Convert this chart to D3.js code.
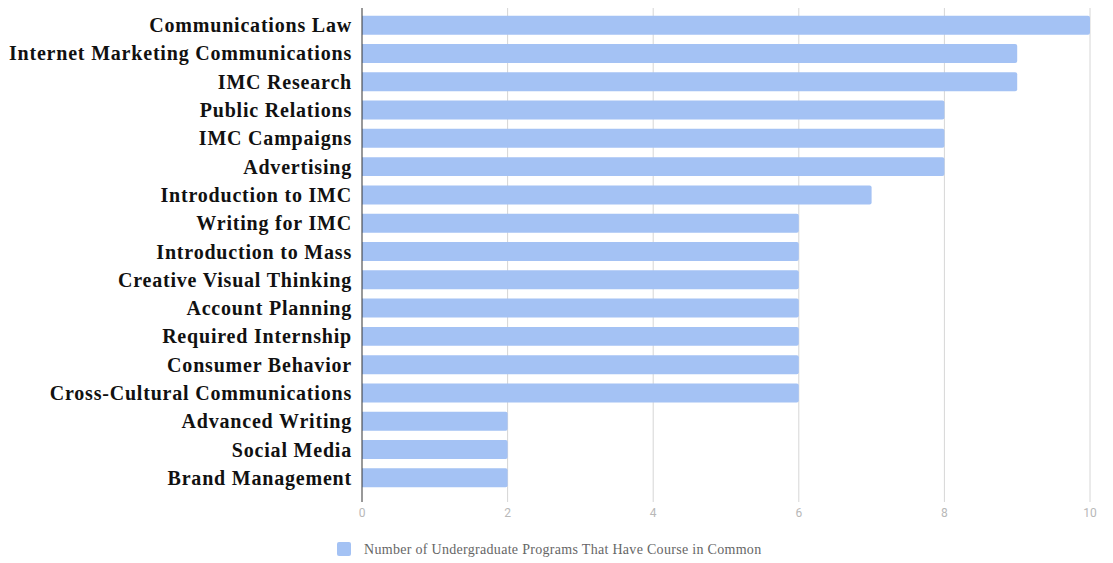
<!DOCTYPE html>
<html>
<head>
<meta charset="utf-8">
<script src="https://cdn.jsdelivr.net/npm/d3@7"></script>
<style>
  body { margin: 0; background: #fff; }
  svg { display: block; }
</style>
</head>
<body>
<div id="chart"></div>
<script>
const courses = [
  "Communications Law", "Internet Marketing Communications", "IMC Research",
  "Public Relations", "IMC Campaigns", "Advertising", "Introduction to IMC",
  "Writing for IMC", "Introduction to Mass", "Creative Visual Thinking",
  "Account Planning", "Required Internship", "Consumer Behavior",
  "Cross-Cultural Communications", "Advanced Writing", "Social Media",
  "Brand Management"
];
const programs = [10, 9, 9, 8, 8, 8, 7, 6, 6, 6, 6, 6, 6, 6, 2, 2, 2];
const xTicks = [0, 2, 4, 6, 8, 10];
const seriesName = "Number of Undergraduate Programs That Have Course in Common";

const width = 1113, height = 563;
const margin = { left: 362, right: 23, top: 8, bottom: 66 };

const svg = d3.select("#chart").append("svg")
  .attr("width", width)
  .attr("height", height);

const x = d3.scaleLinear()
  .domain([0, 10])
  .range([margin.left, width - margin.right]);

const y = d3.scaleBand()
  .domain(courses)
  .range([11, 492])
  .paddingInner(0.33)
  .paddingOuter(0.165);

// gridlines
svg.append("g")
  .selectAll("line")
  .data(xTicks.slice(1))
  .join("line")
  .attr("x1", d => x(d)).attr("x2", d => x(d))
  .attr("y1", margin.top).attr("y2", height - margin.bottom + 5)
  .attr("stroke", "#d6d6d6")
  .attr("stroke-width", 1);

// bars
svg.append("g")
  .selectAll("path")
  .data(courses)
  .join("path")
  .attr("fill", "#a4c2f4")
  .attr("d", (d, i) => {
    const x0 = x(0), x1 = x(programs[i]);
    const y0 = y(d), h = y.bandwidth(), r = 2;
    return `M${x0},${y0}H${x1 - r}Q${x1},${y0} ${x1},${y0 + r}V${y0 + h - r}Q${x1},${y0 + h} ${x1 - r},${y0 + h}H${x0}Z`;
  });

// baseline
svg.append("line")
  .attr("x1", x(0)).attr("x2", x(0))
  .attr("y1", margin.top).attr("y2", height - margin.bottom + 5)
  .attr("stroke", "#333")
  .attr("stroke-width", 1);

// category labels
svg.append("g")
  .selectAll("text")
  .data(courses)
  .join("text")
  .attr("x", x(0) - 10)
  .attr("y", d => y(d) + y.bandwidth() / 2)
  .attr("dy", "0.35em")
  .attr("text-anchor", "end")
  .attr("font-family", "'Liberation Serif', 'DejaVu Serif', serif")
  .attr("font-weight", "bold")
  .attr("font-size", 20)
  .attr("letter-spacing", 0.8)
  .attr("fill", "#111")
  .text(d => d);

// x tick labels
svg.append("g")
  .selectAll("text")
  .data(xTicks)
  .join("text")
  .attr("x", d => x(d))
  .attr("y", 517)
  .attr("text-anchor", "middle")
  .attr("font-family", "Roboto, 'Open Sans', sans-serif")
  .attr("font-size", 12)
  .attr("fill", "#b8b8b8")
  .text(d => d);

// legend
const legend = svg.append("g").attr("transform", "translate(337,542)");
legend.append("rect")
  .attr("width", 14).attr("height", 14)
  .attr("rx", 2)
  .attr("fill", "#a4c2f4");
legend.append("text")
  .attr("x", 27).attr("y", 7)
  .attr("dy", "0.35em")
  .attr("font-family", "'Liberation Serif', 'DejaVu Serif', serif")
  .attr("font-size", 14)
  .attr("letter-spacing", 0.3)
  .attr("fill", "#666")
  .text(seriesName);
</script>
</body>
</html>
